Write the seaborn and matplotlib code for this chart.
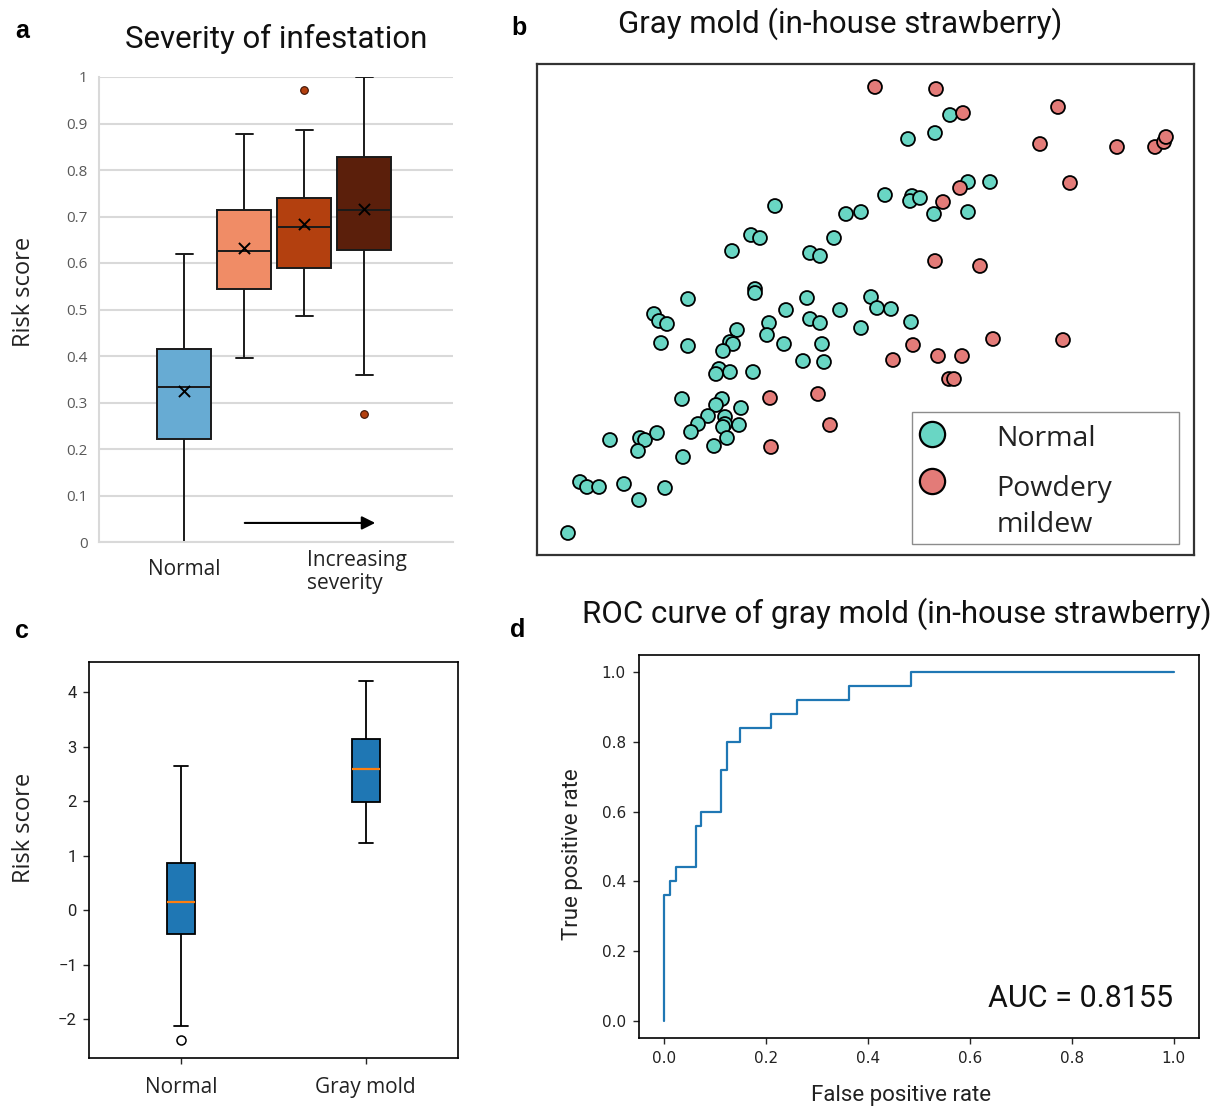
import numpy as np
import pandas as pd
import matplotlib
matplotlib.use("Agg")
import matplotlib.pyplot as plt
from matplotlib.patches import Rectangle
import seaborn as sns

sns.set_theme(style="white")
plt.rcParams['font.family'] = ['Open Sans', 'DejaVu Sans']

# ---- a: risk score by severity of infestation (box summaries)
severity_groups = ["Normal", "Level 1", "Level 2", "Level 3"]
severity_lo = [0.000, 0.395, 0.487, 0.359]
severity_q1 = [0.222, 0.544, 0.589, 0.629]
severity_med = [0.334, 0.626, 0.677, 0.713]
severity_q3 = [0.416, 0.714, 0.739, 0.828]
severity_hi = [0.620, 0.877, 0.887, 1.000]
severity_mean = [0.324, 0.632, 0.684, 0.717]
severity_outlier_group = ["Level 2", "Level 3"]
severity_outlier_value = [0.973, 0.276]
severity_colors = ["#67abd3", "#f08c66", "#b3400f", "#5b1f0b"]
severity_yticks = [0, 0.1, 0.2, 0.3, 0.4, 0.5, 0.6, 0.7, 0.8, 0.9, 1.0]
severity_yticklabels = ["0", "0.1", "0.2", "0.3", "0.4", "0.5", "0.6", "0.7", "0.8", "0.9", "1"]

# ---- b: 2-D embedding, gray mold (in-house strawberry)
normal_x = [238, 214, 223, 195, 309, 324, 297, 273, 283, 218, 218, 151, 270, 334, 249, 303,
            413, 398, 371, 431, 453, 348, 375, 373, 383, 397, 431, 340, 354, 117, 122, 130,
            124, 151, 200, 193, 196, 186, 232, 230, 273, 283, 247, 285, 287, 266, 324, 182,
            179, 193, 216, 145, 185, 179, 204, 171, 161, 154, 188, 188, 186, 202, 190, 177,
            146, 73, 103, 108, 120, 101, 43, 50, 62, 87, 128, 102, 31, 374]
normal_y = [349, 320, 317, 304, 341, 343, 317, 302, 299, 266, 262, 256, 257, 258, 245, 245,
            440, 422, 416, 373, 373, 360, 359, 354, 357, 341, 343, 247, 246, 241, 234, 231,
            212, 209, 225, 213, 211, 204, 232, 220, 236, 232, 211, 211, 193, 194, 227, 186,
            181, 183, 183, 156, 156, 150, 147, 139, 131, 123, 138, 131, 128, 130, 117, 109,
            98, 115, 117, 115, 122, 104, 73, 68, 68, 71, 67, 55, 22, 233]
mildew_x = [338, 399, 426, 521, 503, 580, 618, 627, 629, 533, 423, 406, 398, 443, 233, 281,
            293, 234, 456, 526, 376, 356, 401, 425, 412, 417]
mildew_y = [468, 466, 442, 448, 411, 408, 408, 413, 418, 372, 367, 353, 294, 289, 157, 161,
            130, 108, 216, 215, 210, 195, 199, 199, 176, 176]
tissue_labels = ["Normal", "Powdery mildew"]
tissue_colors = ["#69d6c4", "#e37b78"]

# ---- c: risk score, normal vs gray mold
mold_groups = ["Normal", "Gray mold"]
mold_lo = [-2.12, 1.24]
mold_q1 = [-0.43, 1.99]
mold_med = [0.15, 2.59]
mold_q3 = [0.86, 3.15]
mold_hi = [2.65, 4.21]
mold_outlier_group = ["Normal"]
mold_outlier_value = [-2.38]

# ---- d: ROC curve of gray mold
roc_fpr = [0.0, 0.0, 0.011, 0.011, 0.023, 0.023, 0.061, 0.061, 0.071, 0.071, 0.111, 0.111,
           0.123, 0.123, 0.148, 0.148, 0.209, 0.209, 0.260, 0.260, 0.362, 0.362, 0.485,
           0.485, 1.0]
roc_tpr = [0.0, 0.36, 0.36, 0.40, 0.40, 0.44, 0.44, 0.56, 0.56, 0.60, 0.60, 0.72, 0.72,
           0.80, 0.80, 0.84, 0.84, 0.88, 0.88, 0.92, 0.92, 0.96, 0.96, 1.0, 1.0]
roc_auc = 0.8155


def box_frame(groups, *stats):
    # long-form table holding the five-number summary of every group
    rows = [(g, s[i]) for i, g in enumerate(groups) for s in stats]
    return pd.DataFrame(rows, columns=["group", "score"])


W, H = 1213, 1108
fig = plt.figure(figsize=(W / 100, H / 100), dpi=100)


def fx(px):
    return px / W


def fy(py):
    return 1 - py / H


TITLE = dict(family="Roboto", fontsize=22.5, color="#111111")
LETTER = dict(family="Liberation Sans", fontsize=18, fontweight="bold", color="black")

# ================= a =================
ax_a = fig.add_axes([fx(99), fy(542), fx(354), 465 / H])
df_a = box_frame(severity_groups, severity_lo, severity_q1, severity_med, severity_q3, severity_hi)
sns.boxplot(data=df_a, x="group", y="score", hue="group", order=severity_groups,
            hue_order=severity_groups, palette=severity_colors, saturation=1, width=0.9,
            whis=(0, 100), showfliers=False, linecolor="#1a1a1a", linewidth=1.4,
            legend=False, ax=ax_a)
# shorter whisker caps, as in the original
for line in ax_a.lines:
    xs = np.asarray(line.get_xdata(), dtype=float)
    ys = np.asarray(line.get_ydata(), dtype=float)
    if len(xs) == 2 and ys[0] == ys[1] and np.isclose(xs[1] - xs[0], 0.45):
        c = xs.mean()
        line.set_xdata([c - 0.14, c + 0.14])
sns.stripplot(x=severity_groups, y=severity_mean, order=severity_groups, jitter=False,
              marker="x", color="black", size=8, linewidth=1.4, ax=ax_a, zorder=5)
sns.stripplot(x=severity_outlier_group, y=severity_outlier_value, order=severity_groups,
              jitter=False, color="#b3400f", size=5.5, edgecolor="#3b1204", linewidth=0.8,
              ax=ax_a, zorder=5)
ax_a.set_xlim(-1.42, 4.48)
ax_a.set_ylim(0, 1)
ax_a.set_yticks(severity_yticks)
ax_a.set_yticklabels(severity_yticklabels)
ax_a.set_xticks([])
ax_a.set(xlabel="", ylabel="")
ax_a.yaxis.grid(True, color="#d9d9d9", linewidth=1.5)
ax_a.set_axisbelow(True)
for side in ["top", "right"]:
    ax_a.spines[side].set_visible(False)
for side in ["left", "bottom"]:
    ax_a.spines[side].set_color("#d9d9d9")
    ax_a.spines[side].set_linewidth(1.5)
ax_a.tick_params(axis="y", length=0, pad=8, labelsize=11, labelcolor="#595959")
xt = ax_a.get_xaxis_transform()
ax_a.text(0, -0.0703, "Normal", transform=xt, ha="center", va="baseline",
          fontsize=15, color="#222222")
ax_a.text(2.04, -0.101, "Increasing\nseverity", transform=xt, ha="left", va="baseline",
          fontsize=15, color="#222222", linespacing=1.15)
ax_a.annotate("", xy=(3.23, 0.041), xytext=(0.963, 0.041),
              arrowprops=dict(arrowstyle="-|>", color="black", lw=1.5, mutation_scale=20))
fig.text(fx(24), fy(292), "Risk score", rotation=90, ha="center", va="center",
         fontsize=17, color="#222222")
fig.text(fx(276), fy(48), "Severity of infestation", ha="center", va="baseline", **TITLE)
fig.text(fx(15), fy(38), "a", ha="left", va="baseline", **LETTER)

# ================= b =================
ax_b = fig.add_axes([fx(537), fy(555), fx(657), 491 / H])
df_b = pd.DataFrame({
    "x": normal_x + mildew_x,
    "y": normal_y + mildew_y,
    "tissue": [tissue_labels[0]] * len(normal_x) + [tissue_labels[1]] * len(mildew_x),
})
sns.scatterplot(data=df_b, x="x", y="y", hue="tissue", hue_order=tissue_labels,
                palette=tissue_colors, s=100, edgecolor="black", linewidth=1.3,
                legend=False, ax=ax_b)
ax_b.set_xlim(0, 657)
ax_b.set_ylim(0, 491)
ax_b.set_xticks([])
ax_b.set_yticks([])
ax_b.set(xlabel="", ylabel="")
for side in ax_b.spines.values():
    side.set_color("#333333")
    side.set_linewidth(1.6)

# legend box drawn by hand so the marker sits on the first line of a two-line label
ax_b.add_patch(Rectangle((0.5703, 0.0224), 0.4073, 0.2695, transform=ax_b.transAxes,
                         facecolor="white", edgecolor="#8c8c8c", linewidth=1.0, zorder=6))
for lab, col, my, ty in zip(["Normal", "Powdery\nmildew"], tissue_colors,
                            [0.2458, 0.1507], [0.2220, 0.0475]):
    ax_b.scatter([0.6017], [my], transform=ax_b.transAxes, s=330, color=col,
                 edgecolor="black", linewidth=1.6, zorder=7, clip_on=False)
    ax_b.text(0.6997, ty, lab, transform=ax_b.transAxes, ha="left", va="baseline",
              fontsize=20.5, color="#222222", linespacing=1.35, zorder=7)
fig.text(fx(840), fy(33), "Gray mold (in-house strawberry)", ha="center", va="baseline", **TITLE)
fig.text(fx(511), fy(35), "b", ha="left", va="baseline", **LETTER)

# ================= c =================
ax_c = fig.add_axes([fx(88.7), fy(1058.3), fx(369.3), 396.6 / H])
df_c = box_frame(mold_groups, mold_lo, mold_q1, mold_med, mold_q3, mold_hi)
sns.boxplot(data=df_c, x="group", y="score", order=mold_groups, color="#1f77b4",
            saturation=1, width=0.15, whis=(0, 100), showfliers=False,
            linecolor="black", linewidth=1.3,
            medianprops=dict(color="#ff7f0e", linewidth=1.6), ax=ax_c)
sns.stripplot(x=mold_outlier_group, y=mold_outlier_value, order=mold_groups, jitter=False,
              color="white", edgecolor="black", linewidth=1.1, size=6.5, ax=ax_c, zorder=5)
ax_c.set_xlim(-0.5, 1.5)
ax_c.set_ylim(-2.72, 4.56)
ax_c.set_yticks([-2, -1, 0, 1, 2, 3, 4])
ax_c.set(xlabel="", ylabel="")
for side in ax_c.spines.values():
    side.set_color("black")
    side.set_linewidth(1.2)
ax_c.tick_params(axis="y", length=4.5, width=1, pad=4, left=True, labelsize=12,
                 labelcolor="#222222", labelfontfamily="Roboto")
ax_c.tick_params(axis="x", length=4.5, width=1, pad=9, bottom=True, labelsize=15,
                 labelcolor="#222222")
fig.text(fx(24), fy(828), "Risk score", rotation=90, ha="center", va="center",
         fontsize=17, color="#222222")
fig.text(fx(15), fy(638), "c", ha="left", va="baseline", **LETTER)

# ================= d =================
ax_d = fig.add_axes([fx(639), fy(1038), fx(560), 383 / H])
sns.lineplot(x=roc_fpr, y=roc_tpr, sort=False, estimator=None, color="#1f77b4",
             linewidth=1.6, ax=ax_d)
ax_d.set_xlim(-0.05, 1.05)
ax_d.set_ylim(-0.05, 1.05)
ticks = [0.0, 0.2, 0.4, 0.6, 0.8, 1.0]
ax_d.set_xticks(ticks)
ax_d.set_yticks(ticks)
ax_d.set_xticklabels([f"{t:.1f}" for t in ticks])
ax_d.set_yticklabels([f"{t:.1f}" for t in ticks])
for side in ax_d.spines.values():
    side.set_color("black")
    side.set_linewidth(1.2)
ax_d.tick_params(axis="both", length=4.5, width=1, labelsize=11, labelcolor="#222222",
                 labelfontfamily="DejaVu Sans", left=True, bottom=True)
ax_d.tick_params(axis="y", pad=5)
ax_d.tick_params(axis="x", pad=5)
ax_d.text(1.0, 0.038, f"AUC = {roc_auc:.4f}", ha="right", va="baseline",
          family="Roboto", fontsize=22, color="#111111")
fig.text(fx(572.5), fy(854), "True positive rate", rotation=90, ha="center", va="center",
         family="Roboto", fontsize=16, color="#222222")
fig.text(fx(901), fy(1096), "False positive rate", ha="center", va="center",
         family="Roboto", fontsize=16, color="#222222")
fig.text(fx(897), fy(623), "ROC curve of gray mold (in-house strawberry)", ha="center",
         va="baseline", **TITLE)
fig.text(fx(510), fy(637), "d", ha="left", va="baseline", **LETTER)

fig.savefig("out.png", dpi=100)
plt.close(fig)
